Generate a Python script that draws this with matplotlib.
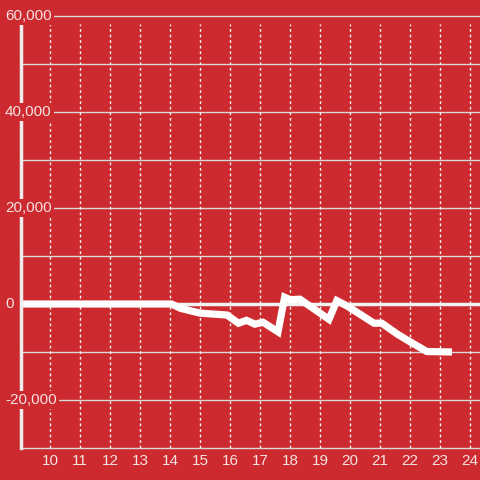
import matplotlib
matplotlib.use("Agg")
import matplotlib.pyplot as plt
from matplotlib.transforms import blended_transform_factory

# Data
xs = [9.0, 14.05, 14.35, 15.0, 15.9, 16.28, 16.55, 16.83, 17.1, 17.6, 17.82, 18.0, 18.33,
      19.3, 19.56, 19.9, 20.8, 21.06, 21.56, 21.9, 22.56, 23.4]
ys = [0, 0, -900, -1900, -2300, -4000, -3400, -4200, -3800, -5800, 1400, 900, 1000,
      -3200, 700, -400, -4000, -4000, -6200, -7500, -9900, -10000]
x_ticks = list(range(10, 25))
y_ticks = [60000, 40000, 20000, 0, -20000]
y_tick_labels = ["60,000", "40,000", "20,000", "0", "-20,000"]
y_grid = [60000, 50000, 40000, 30000, 20000, 10000, -10000, -20000, -30000]

BG = "#cc2a2f"
TXT = "#f5e2e2"

plt.rcParams['font.family'] = ['Liberation Sans', 'DejaVu Sans']
fig = plt.figure(figsize=(4.8, 4.8), dpi=100, facecolor=BG)
ax = fig.add_axes([21/480, 32/480, 459/480, 432/480])
ax.set_facecolor(BG)
ax.set_xlim(9.033, 24.333)
ax.set_ylim(-30000, 60000)

for s in ['top', 'right', 'bottom']:
    ax.spines[s].set_visible(False)
ax.spines['left'].set_color('#eeeeee')
ax.spines['left'].set_linewidth(2.5)
ax.spines['left'].set_bounds(-30000, 58330)
ax.spines['left'].set_zorder(4)

# horizontal grid
for g in y_grid:
    ax.axhline(g, color='#d8d8d8', lw=1.0, zorder=1, clip_on=False)
ax.axhline(0, color='#f2f2f2', lw=2.5, zorder=2)
# vertical dotted grid
ax.vlines(x_ticks, -30000, 58330, colors='#f4f4f4', lw=1.0,
          linestyles=(0, (2, 2)), zorder=1)

ax.plot(xs, ys, color='white', lw=5.2, zorder=3, solid_capstyle='butt',
        solid_joinstyle='miter')

ax.set_xticks(x_ticks)
ax.set_xticklabels([str(t) for t in x_ticks])
ax.tick_params(axis='x', length=0, pad=4, labelsize=11, labelcolor=TXT)
ax.set_yticks([])

trans = blended_transform_factory(fig.transFigure, ax.transData)
for v, lab in zip(y_ticks, y_tick_labels):
    ax.text(5/480, v, lab, transform=trans, ha='left', va='center',
            fontsize=11, color=TXT, clip_on=False, zorder=6,
            bbox=dict(facecolor=BG, edgecolor='none', pad=1.5))

fig.savefig("out.png", dpi=100, facecolor=BG)
